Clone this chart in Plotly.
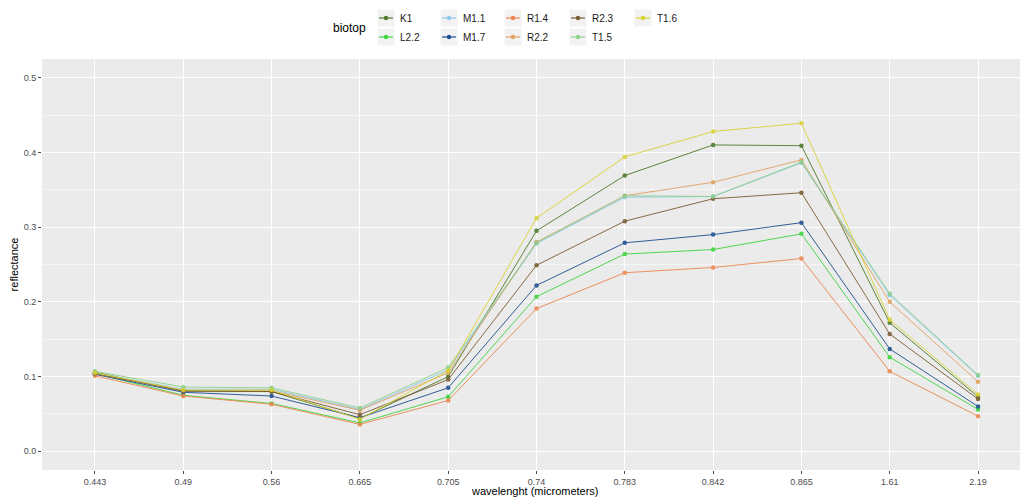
import plotly.graph_objects as go

wavelengths = ["0.443", "0.49", "0.56", "0.665", "0.705", "0.74", "0.783", "0.842", "0.865", "1.61", "2.19"]
biotops = ["K1", "L2.2", "M1.1", "M1.7", "R1.4", "R2.2", "R2.3", "T1.5", "T1.6"]

K1 = [0.106, 0.080, 0.080, 0.044, 0.100, 0.295, 0.369, 0.410, 0.409, 0.172, 0.073]
L2_2 = [0.104, 0.075, 0.064, 0.038, 0.073, 0.207, 0.264, 0.270, 0.291, 0.126, 0.056]
M1_1 = [0.105, 0.083, 0.083, 0.056, 0.109, 0.278, 0.340, 0.341, 0.386, 0.209, 0.101]
M1_7 = [0.103, 0.079, 0.074, 0.045, 0.085, 0.222, 0.279, 0.290, 0.306, 0.137, 0.060]
R1_4 = [0.101, 0.074, 0.063, 0.036, 0.068, 0.191, 0.239, 0.246, 0.258, 0.107, 0.047]
R2_2 = [0.104, 0.081, 0.081, 0.055, 0.105, 0.280, 0.342, 0.360, 0.390, 0.200, 0.093]
R2_3 = [0.104, 0.081, 0.080, 0.049, 0.096, 0.249, 0.308, 0.338, 0.346, 0.157, 0.070]
T1_5 = [0.107, 0.086, 0.085, 0.058, 0.112, 0.279, 0.342, 0.341, 0.387, 0.211, 0.102]
T1_6 = [0.105, 0.082, 0.082, 0.043, 0.108, 0.312, 0.394, 0.428, 0.439, 0.176, 0.076]

series = [K1, L2_2, M1_1, M1_7, R1_4, R2_2, R2_3, T1_5, T1_6]
colors = ["#4E7A2A", "#3FD43F", "#8EC8EA", "#1F4F8F", "#EC8750", "#E0A263",
          "#7B5B33", "#8ED18E", "#D9D235"]

# page body has an 8px margin, so the figure is sized to fill the rest of the window
W, H = 1020, 492
L, R, T, B = 34, 0, 51, 30
PW, PH = W - L - R, H - T - B


def px(x):
    return (x - L) / PW


def py(y):
    return (H - B - y) / PH


fig = go.Figure()
for name, vals, col in zip(biotops, series, colors):
    fig.add_trace(go.Scatter(
        x=list(range(len(wavelengths))), y=vals, name=name, mode="lines+markers",
        line=dict(color=col, width=1), marker=dict(color=col, size=4.5),
        opacity=0.9, showlegend=False))

font = "Liberation Sans, Arial, sans-serif"

# manual ggplot-style legend
shapes = []
annotations = []
key_x = [378, 441, 505, 570, 635]
row_y = [10, 29]
for i, (name, col) in enumerate(zip(biotops, colors)):
    c, r = i // 2, i % 2
    cx, cy = key_x[c], row_y[r]
    shapes.append(dict(type="rect", xref="paper", yref="paper",
                       x0=px(cx - 8.5), x1=px(cx + 8.5), y0=py(cy + 8.5), y1=py(cy - 8.5),
                       fillcolor="#F2F2F2", line=dict(width=0), layer="above"))
    shapes.append(dict(type="line", xref="paper", yref="paper",
                       x0=px(cx - 7), x1=px(cx + 7), y0=py(cy), y1=py(cy),
                       line=dict(color=col, width=1.2), layer="above"))
    shapes.append(dict(type="circle", xref="paper", yref="paper",
                       x0=px(cx - 2.2), x1=px(cx + 2.2), y0=py(cy + 2.2), y1=py(cy - 2.2),
                       fillcolor=col, line=dict(width=0), layer="above"))
    annotations.append(dict(text=name, xref="paper", yref="paper", x=px(cx + 12), y=py(cy),
                            xanchor="left", yanchor="middle", showarrow=False,
                            font=dict(family=font, size=10, color="#1A1A1A")))
annotations.append(dict(text="biotop", xref="paper", yref="paper", x=px(341), y=py(20),
                        xanchor="center", yanchor="middle", showarrow=False,
                        font=dict(family=font, size=12, color="#000000")))
annotations.append(dict(text="wavelenght (micrometers)", xref="paper", yref="paper",
                        x=0.5, y=py(483), xanchor="center", yanchor="middle", showarrow=False,
                        font=dict(family=font, size=11, color="#000000")))

fig.update_layout(
    width=W, height=H,
    margin=dict(l=L, r=R, t=T, b=B),
    paper_bgcolor="white", plot_bgcolor="#EBEBEB",
    font=dict(family=font),
    shapes=shapes, annotations=annotations,
    xaxis=dict(
        tickmode="array", tickvals=list(range(len(wavelengths))), ticktext=wavelengths,
        range=[-0.6, 10.566], showgrid=True, gridcolor="white", gridwidth=1,
        zeroline=False, ticks="outside", ticklen=3, tickcolor="#4D4D4D",
        tickfont=dict(family=font, size=9, color="#4D4D4D"),
    ),
    yaxis=dict(
        range=[-0.025, 0.525], tickvals=[0, 0.1, 0.2, 0.3, 0.4, 0.5], tickformat=".1f",
        showgrid=True, gridcolor="white", gridwidth=1, zeroline=False,
        ticks="outside", ticklen=3, tickcolor="#4D4D4D",
        tickfont=dict(family=font, size=9, color="#4D4D4D"),
        minor=dict(tickvals=[0.05, 0.15, 0.25, 0.35, 0.45], showgrid=True,
                   gridcolor="#F5F5F5", gridwidth=0.6, ticks=""),
        title=dict(text="reflectance", standoff=8,
                   font=dict(family=font, size=11, color="#000000")),
    ),
)

fig.write_html("out.html")
